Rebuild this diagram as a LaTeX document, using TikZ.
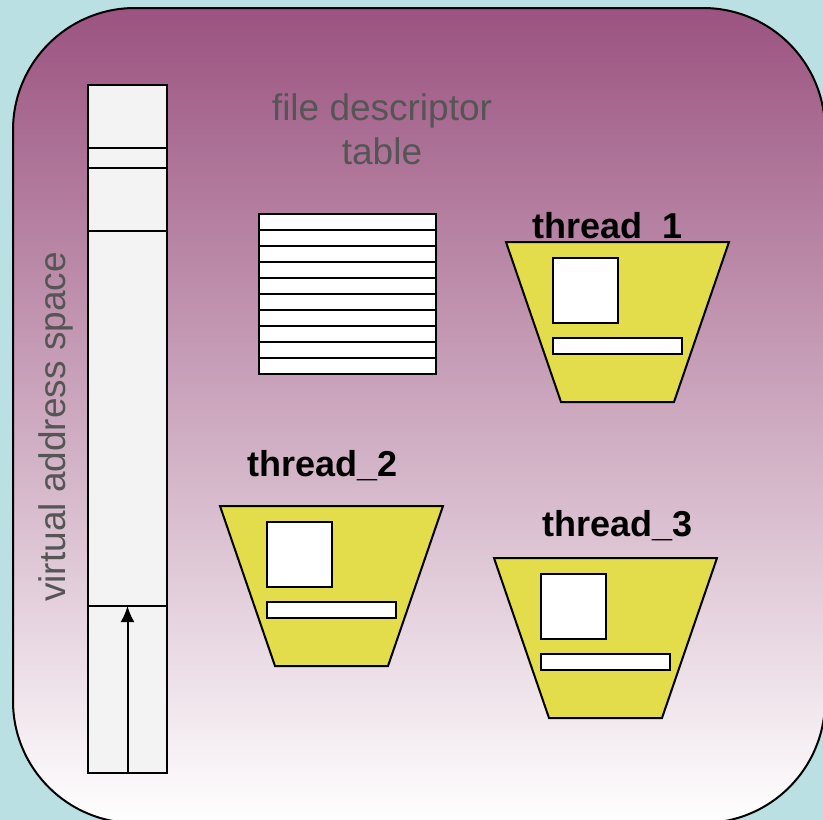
\documentclass[tikz,border=0pt]{standalone}
\usepackage{fontspec}
\setmainfont{Liberation Sans}
\usetikzlibrary{arrows.meta, positioning}

\definecolor{skyblue}{RGB}{187,224,228}
\definecolor{plum}{RGB}{155,83,128}
\definecolor{lemon}{RGB}{227,221,75}
\definecolor{slate}{RGB}{85,85,85}
\definecolor{paper}{RGB}{243,243,243}

\tikzstyle{procframe} = [draw=black, line width=2pt, rounded corners=122pt, top color=plum, middle color=plum!42, bottom color=white]
\tikzstyle{vasbox} = [rectangle, draw=black, line width=2pt, fill=paper, inner sep=0pt, minimum width=79pt, minimum height=688pt]
\tikzstyle{fdrow} = [rectangle, draw=black, line width=2pt, fill=white, inner sep=0pt, outer sep=0pt, minimum width=177pt, minimum height=16pt]
\tikzstyle{threadshape} = [draw=black, line width=2pt, fill=lemon]
\tikzstyle{regs} = [rectangle, draw=black, line width=2pt, fill=white, inner sep=0pt, outer sep=0pt, minimum width=65pt, minimum height=65pt]
\tikzstyle{stackbar} = [rectangle, draw=black, line width=2pt, fill=white, inner sep=0pt, outer sep=0pt, minimum width=129pt, minimum height=16pt]
\tikzstyle{tname} = [font=\fontsize{36}{43}\selectfont\bfseries, anchor=base, inner sep=0pt]
\tikzstyle{graytext} = [font=\fontsize{37}{44}\selectfont, text=slate, align=center, anchor=base, inner sep=0pt]
\tikzstyle{arrow} = [line width=2pt, -{Latex[length=16pt, width=14pt]}]

\begin{document}
\begin{tikzpicture}[x=1pt, y=-1pt]
    \useasboundingbox [fill=skyblue] (0,0) rectangle (823,820);

    % the process
    \draw [procframe] (13,8) rectangle (825,823);

    % address space column
    \node (vas) [vasbox] at (127.5,429) {};
    \foreach \ypos in {148,168,231,606}
        \draw [line width=2pt] (vas.west |- 0,\ypos) -- (vas.east |- 0,\ypos);
    \coordinate (stacktop) at (vas.center |- 0,606);
    \draw [arrow] (vas.south) -- (stacktop);
    \node (vaslabel) [graytext, rotate=90] at (65,427) {virtual address space};

    % file descriptor table
    \node (fdlabel) [graytext] at (382,164) {file descriptor\\table};
    \node (row1) [fdrow] at (347.5,222) {};
    \foreach \i [remember=\i as \prev (initially 1)] in {2,...,10}
        \node (row\i) [fdrow, below=0pt of row\prev] {};

    % threads (coordinate = middle of the top edge)
    \coordinate (t1) at (617.5,242);
    \draw [threadshape] (t1) ++(-111.5,0) -- ++(223,0) -- ++(-55,160) -- ++(-113,0) -- cycle;
    \node (t1regs) [regs, below left=16pt and 0pt of t1] {};
    \node (t1stack) [stackbar, below=96pt of t1] {};
    \node (t1name) [tname] at (607.5,238) {thread\_1};

    \coordinate (t2) at (331.5,506);
    \draw [threadshape] (t2) ++(-111.5,0) -- ++(223,0) -- ++(-55,160) -- ++(-113,0) -- cycle;
    \node (t2regs) [regs, below left=16pt and 0pt of t2] {};
    \node (t2stack) [stackbar, below=96pt of t2] {};
    \node (t2name) [tname] at (322.5,476) {thread\_2};

    \coordinate (t3) at (605.5,558);
    \draw [threadshape] (t3) ++(-111.5,0) -- ++(223,0) -- ++(-55,160) -- ++(-113,0) -- cycle;
    \node (t3regs) [regs, below left=16pt and 0pt of t3] {};
    \node (t3stack) [stackbar, below=96pt of t3] {};
    \node (t3name) [tname] at (617.5,536) {thread\_3};
\end{tikzpicture}
\end{document}
